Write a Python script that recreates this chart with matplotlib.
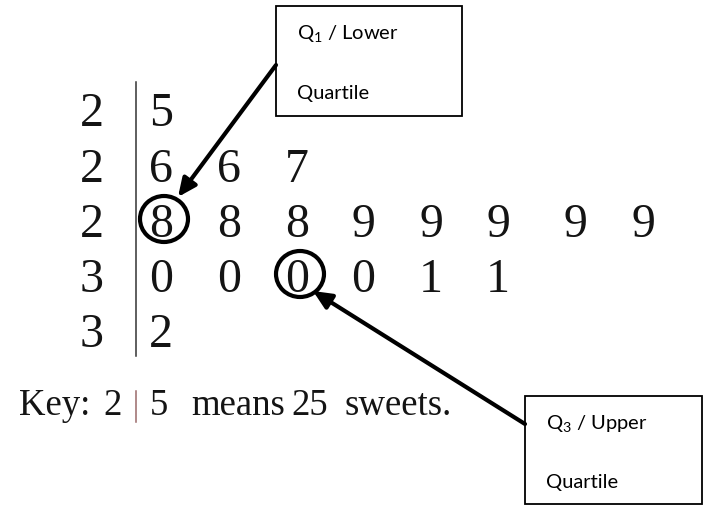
import matplotlib
matplotlib.use("Agg")
import matplotlib.pyplot as plt
from matplotlib.patches import Rectangle, Ellipse, FancyArrowPatch

# ---- data ----
stems = [2, 2, 2, 3, 3]
leaves = [[5], [6, 6, 7], [8, 8, 8, 9, 9, 9, 9, 9], [0, 0, 0, 0, 1, 1], [2]]
key_words = ["Key:", "2", "5", "means", "25", "sweets."]
q1_label = ["Q$_\\mathrm{1}$ / Lower", "Quartile"]
q3_label = ["Q$_\\mathrm{3}$ / Upper", "Quartile"]
q1_pos = (2, 0)   # (row, leaf index) circled as Q1
q3_pos = (3, 2)   # (row, leaf index) circled as Q3

# ---- layout (pixel coordinates) ----
W, H = 709, 506
stem_x = 92
bar_x = 136
leaf_x = [161, 229, 297, 363, 431, 498, 575, 643]
row_base = [126, 182, 237, 292, 347]
key_x = [19, 103, 150, 191, 291, 345]
key_base = 415

plt.rcParams['mathtext.fontset'] = 'custom'
plt.rcParams['mathtext.rm'] = 'Lato'

fig = plt.figure(figsize=(W / 100, H / 100), dpi=100)
ax = fig.add_axes([0, 0, 1, 1])
ax.set_xlim(0, W)
ax.set_ylim(H, 0)
ax.axis('off')

serif = 'Liberation Serif'
ink = '#141414'
for r, (s, lv) in enumerate(zip(stems, leaves)):
    ax.text(stem_x, row_base[r], str(s), fontsize=34.5, family=serif,
            ha='center', va='baseline', color=ink)
    for i, v in enumerate(lv):
        ax.text(leaf_x[i], row_base[r], str(v), fontsize=34.5, family=serif,
                ha='center', va='baseline', color=ink)

ax.plot([bar_x, bar_x], [83, 357], color='#333333', lw=1.1)

# key
for w, x in zip(key_words, key_x):
    ax.text(x, key_base, w, fontsize=26.5, family=serif, ha='left',
            va='baseline', color=ink)
ax.plot([bar_x, bar_x], [392, 423], color='#9a6a6a', lw=1.1)

# circles
def circle(pos):
    r, i = pos
    cx, cy = leaf_x[i] + 3, row_base[r] - 17
    ax.add_patch(Ellipse((cx, cy), 48, 46, fill=False, lw=3.0, ec='black'))

circle(q1_pos)
circle(q3_pos)

# boxes
def box(x0, y0, x1, y1, lines):
    ax.add_patch(Rectangle((x0, y0), x1 - x0, y1 - y0, fill=False,
                           lw=1.3, ec='black'))
    ax.text(x0 + 21, y0 + 27, lines[0], fontsize=14.5, family='Lato',
            ha='left', va='center')
    ax.text(x0 + 21, y0 + 86, lines[1], fontsize=14.5, family='Lato',
            ha='left', va='center')

box(276, 7, 462, 117, q1_label)
box(525, 397, 702, 505, q3_label)

for start, tip in [((276, 66), (178, 198)), ((525, 425), (313, 292))]:
    ax.add_patch(FancyArrowPatch(start, tip, arrowstyle='-|>,head_length=11,head_width=5',
                                 mutation_scale=1, lw=3.0, color='black',
                                 shrinkA=0, shrinkB=0))

fig.savefig('out.png', dpi=100)
